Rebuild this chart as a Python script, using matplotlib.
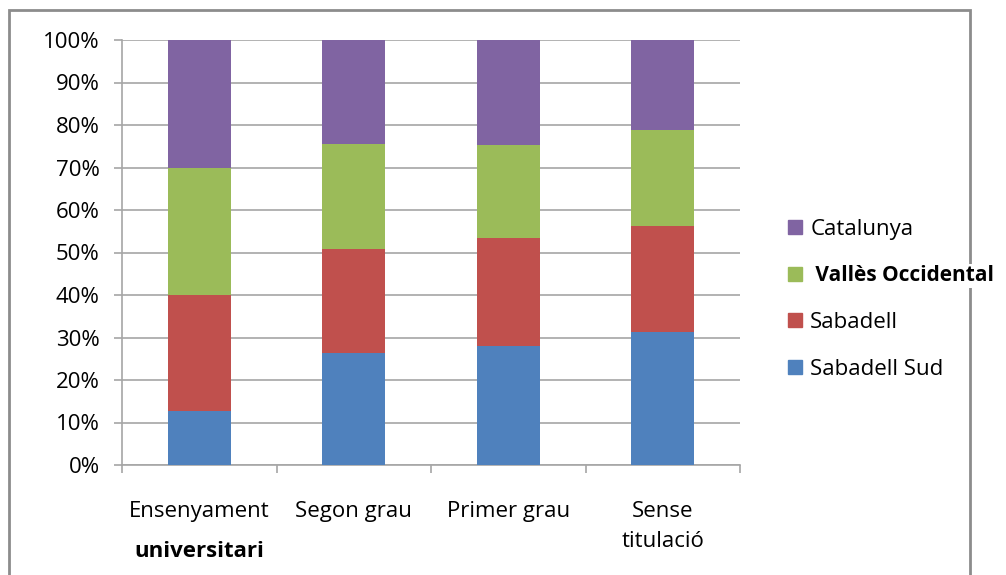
import matplotlib
matplotlib.use("Agg")
import matplotlib.pyplot as plt
import numpy as np
from matplotlib.patches import Rectangle
from matplotlib.lines import Line2D

plt.rcParams["font.family"] = ["Open Sans", "DejaVu Sans"]

# shares by level of studies (%)
categories = ["Ensenyament", "Segon grau", "Primer grau", "Sense\ntitulació"]
sabadell_sud = [12.8, 26.4, 27.9, 31.2]
sabadell = [27.1, 24.4, 25.4, 25.1]
valles = [30.1, 24.8, 22.0, 22.6]
catalunya = [30.0, 24.4, 24.7, 21.1]

series = [
    ("Sabadell Sud", sabadell_sud, "#4F81BD"),
    ("Sabadell", sabadell, "#C0504D"),
    ("Vallès Occidental", valles, "#9BBB59"),
    ("Catalunya", catalunya, "#8064A2"),
]

FS = 16

fig = plt.figure(figsize=(10.06, 5.75), dpi=100)
ax = fig.add_axes([122 / 1006, 110 / 575, 618 / 1006, 425 / 575])

x = np.arange(len(categories))
bottom = np.zeros(len(categories))
for name, vals, color in series:
    ax.bar(x, vals, width=0.41, bottom=bottom, color=color, zorder=3)
    bottom += np.array(vals)

ax.set_xlim(-0.5, len(categories) - 0.5)
ax.set_ylim(0, 100)
ax.set_yticks(np.arange(0, 101, 10))
ax.set_yticklabels([f"{v}%" for v in range(0, 101, 10)], fontsize=FS)
ax.yaxis.grid(True, color="#a6a6a6", linewidth=1.2, zorder=0)

ax.set_xticks(x)
ax.set_xticklabels(categories, fontsize=FS, linespacing=1.55, va="top")
ax.set_xticks(np.arange(-0.5, len(categories), 1), minor=True)
ax.tick_params(axis="x", which="major", length=0, pad=26)
ax.tick_params(axis="x", which="minor", length=6, color="#a6a6a6", width=1.2)
ax.tick_params(axis="y", length=6, color="#a6a6a6", width=1.2, pad=10)

for side in ["top", "right"]:
    ax.spines[side].set_visible(False)
for side in ["left", "bottom"]:
    ax.spines[side].set_color("#a6a6a6")
    ax.spines[side].set_linewidth(1.2)

# second line of the first category, in bold
ax.text(0, -20.3, "universitari", transform=ax.transData, ha="center",
        va="center", fontsize=FS, fontweight="bold")

# legend, top entry first
handles = [Line2D([], [], marker="s", linestyle="none", markersize=10,
                  markerfacecolor=c, markeredgecolor=c) for _, _, c in series[::-1]]
labels = [n for n, _, _ in series[::-1]]
labels[1] = " " + labels[1]
leg = ax.legend(handles, labels, loc="center left", bbox_to_anchor=(1.04, 0.39),
                frameon=False, fontsize=FS, labelspacing=1.15, handletextpad=0.25,
                handlelength=0.9)
bold = leg.get_texts()[1]
bold.set_fontweight("bold")
bold.set_fontsize(15)
bold.set_bbox(dict(facecolor="white", edgecolor="none", pad=1))

# chart frame
fig.add_artist(Rectangle((9 / 1006, -0.05), 961 / 1006, 1.05 - 10 / 575,
                         transform=fig.transFigure, fill=False,
                         edgecolor="#8c8c8c", linewidth=2, zorder=-1))

fig.savefig("out.png", dpi=100, facecolor="white")
